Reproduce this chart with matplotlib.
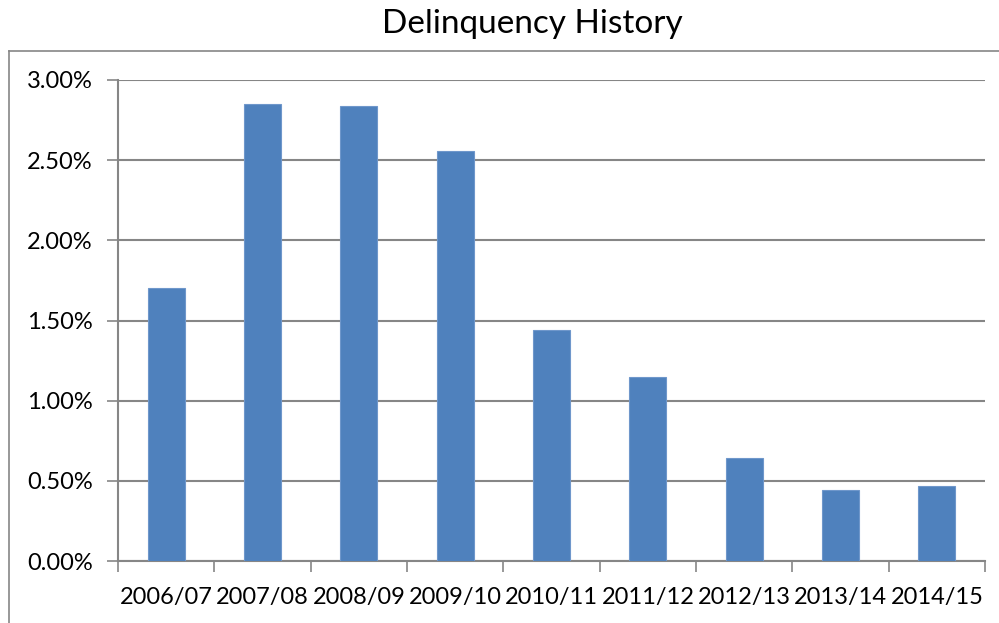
import matplotlib
matplotlib.use("Agg")
import matplotlib.pyplot as plt
from matplotlib.lines import Line2D
from matplotlib.ticker import FuncFormatter
import numpy as np

years = ["2006/07", "2007/08", "2008/09", "2009/10", "2010/11",
         "2011/12", "2012/13", "2013/14", "2014/15"]
rates = [1.70, 2.85, 2.84, 2.56, 1.44, 1.15, 0.64, 0.44, 0.47]  # percent

plt.rcParams['font.family'] = ['Lato', 'DejaVu Sans']

fig = plt.figure(figsize=(9.99, 6.23), dpi=100)
ax = fig.add_axes([118 / 999, 1 - 561 / 623, (985 - 118) / 999, (561 - 80) / 623])

x = np.arange(len(years))
ax.bar(x, rates, width=0.385, color="#4F81BD", edgecolor="#6F97CB", linewidth=0.8, zorder=3)

ax.set_xlim(-0.5, len(years) - 0.5)
ax.set_ylim(0, 3.0)
ax.set_yticks(np.arange(0, 3.01, 0.5))
ax.yaxis.set_major_formatter(FuncFormatter(lambda v, p: "%.2f%%" % v))
ax.yaxis.grid(True, color="#868686", linewidth=1.5, zorder=0)

# category boundary ticks like excel
ax.set_xticks(np.arange(-0.5, len(years), 1.0))
ax.set_xticklabels([])
ax.set_xticks(x, minor=True)
ax.set_xticklabels(years, minor=True, fontsize=17)
ax.tick_params(axis='x', which='minor', length=0, pad=19)
ax.tick_params(axis='x', which='major', length=8, width=1.2, color="#868686")
ax.tick_params(axis='y', length=8, width=1.2, color="#868686", labelsize=17, pad=10)

for s in ["top", "right"]:
    ax.spines[s].set_visible(False)
ax.spines["left"].set_color("#868686")
ax.spines["bottom"].set_color("#868686")
ax.spines["left"].set_linewidth(1.5)
ax.spines["bottom"].set_linewidth(1.5)

fig.text(0.5325, 0.962, "Delinquency History", ha="center", va="center", fontsize=24)

# outer chart border
fig.add_artist(Line2D([9 / 999, 9 / 999], [0, 1 - 51 / 623], color="#868686", linewidth=1.2))
fig.add_artist(Line2D([9 / 999, 1], [1 - 51 / 623, 1 - 51 / 623], color="#868686", linewidth=1.2))

fig.savefig("out.png", dpi=100, facecolor="white")
